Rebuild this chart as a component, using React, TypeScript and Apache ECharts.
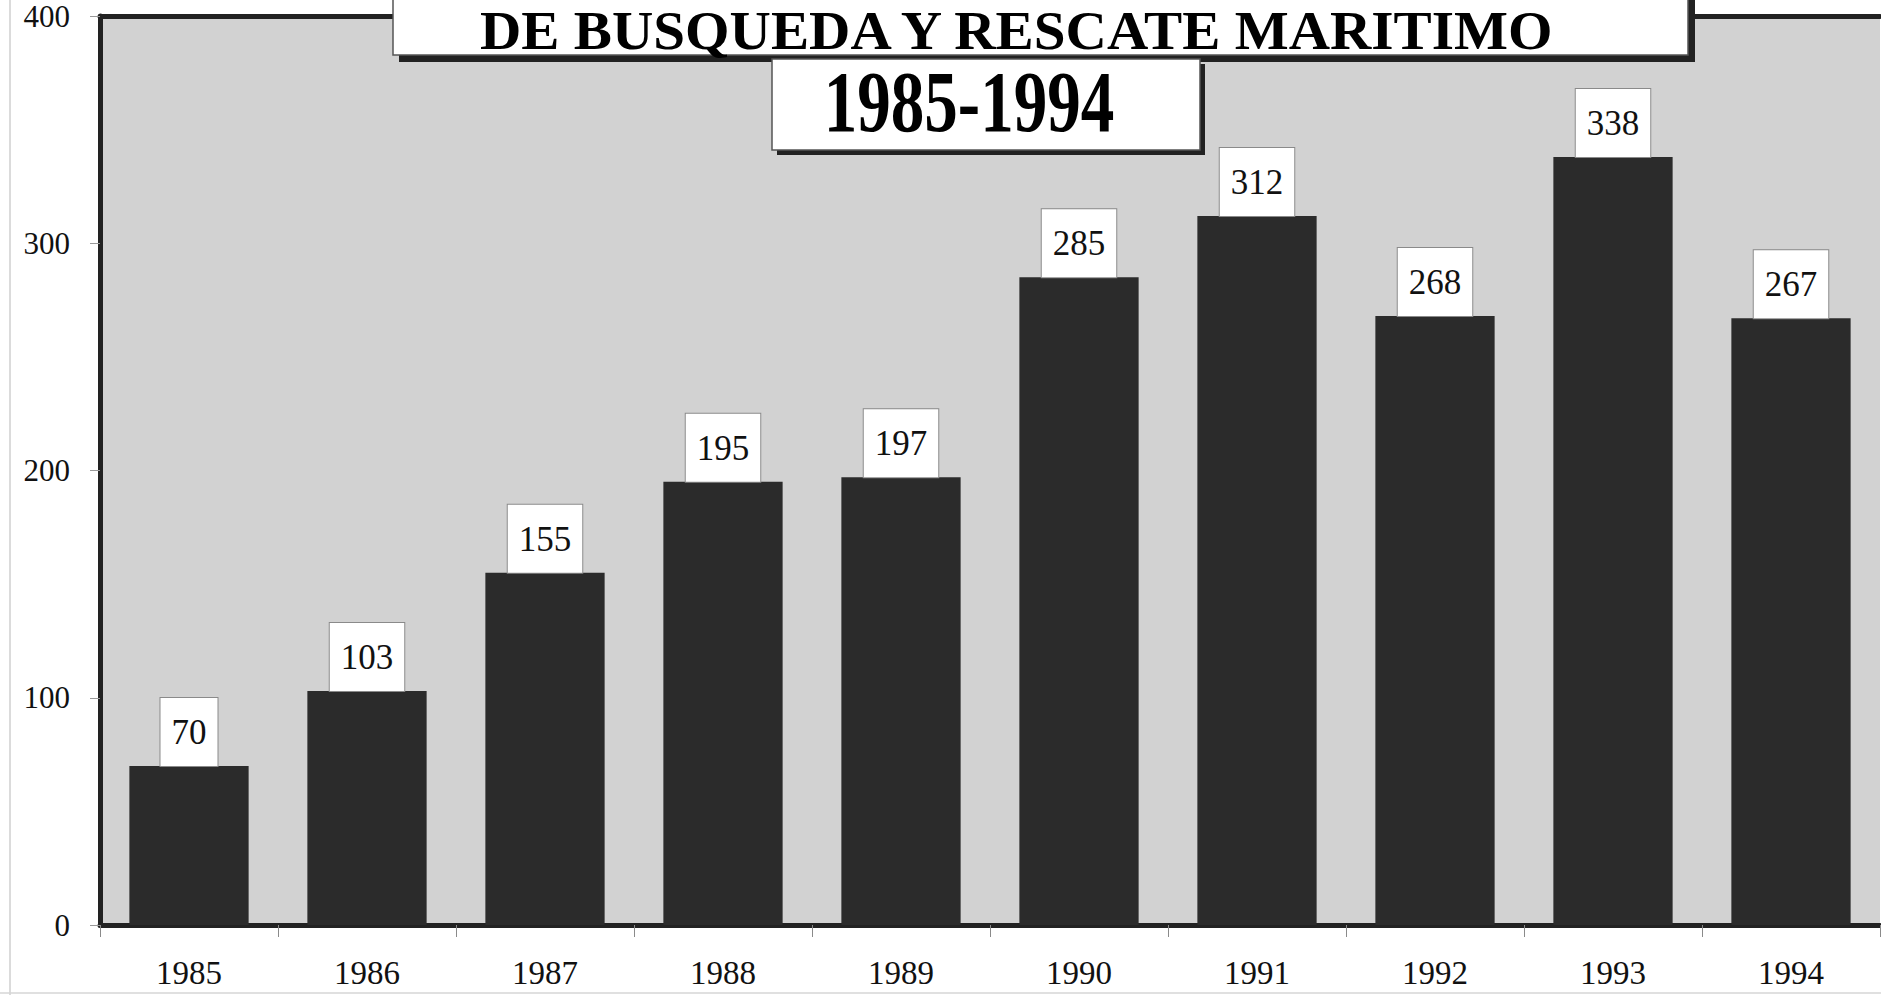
import React, { useEffect, useRef } from "react";
import * as echarts from "echarts";

const years: string[] = ["1985", "1986", "1987", "1988", "1989", "1990", "1991", "1992", "1993", "1994"];
const values: number[] = [70, 103, 155, 195, 197, 285, 312, 268, 338, 267];
const yMin = 0;
const yMax = 400;
const yInterval = 100;
const titleLine = "DE BUSQUEDA Y RESCATE MARITIMO";
const titlePeriod = "1985-1994";

const SERIF = "'Liberation Serif', 'Times New Roman', serif";

export default function App() {
  const ref = useRef<HTMLDivElement>(null);

  useEffect(() => {
    if (!ref.current) return;
    const chart = echarts.init(ref.current, undefined, { renderer: "svg" });
    const option: any = {
      animation: false,
      backgroundColor: "#ffffff",
      grid: {
        left: 100,
        right: 1,
        top: 16,
        bottom: 70,
        show: true,
        borderWidth: 0,
        backgroundColor: "#d2d2d2",
      },
      xAxis: [
        {
          type: "category",
          data: years,
          position: "bottom",
          axisLine: { show: true, lineStyle: { color: "#222222", width: 5 } },
          axisTick: { show: true, length: 12, lineStyle: { color: "#8a8a8a", width: 1 } },
          axisLabel: { fontSize: 33, fontFamily: SERIF, color: "#111111", margin: 31 },
          splitLine: { show: false },
        },
        {
          type: "category",
          data: years,
          position: "top",
          axisLine: { show: true, lineStyle: { color: "#222222", width: 5 } },
          axisTick: { show: false },
          axisLabel: { show: false },
          splitLine: { show: false },
        },
      ],
      yAxis: {
        type: "value",
        min: yMin,
        max: yMax,
        interval: yInterval,
        axisLine: { show: true, lineStyle: { color: "#222222", width: 5 } },
        axisTick: { show: true, length: 10, lineStyle: { color: "#999999", width: 1 } },
        axisLabel: { fontSize: 31, fontFamily: SERIF, color: "#111111", margin: 30 },
        splitLine: { show: false },
      },
      series: [
        {
          type: "bar",
          data: values,
          barWidth: "67%",
          itemStyle: { color: "#2b2b2b" },
          label: {
            show: true,
            position: "top",
            distance: 0,
            fontSize: 35,
            lineHeight: 35,
            fontFamily: SERIF,
            color: "#111111",
            backgroundColor: "#ffffff",
            borderColor: "#8a8a8a",
            borderWidth: 1,
            padding: [17, 11, 16, 11],
          },
        },
      ],
      graphic: [
        // page edge lines (scan artifacts)
        { type: "line", z: 100, shape: { x1: 10, y1: 0, x2: 10, y2: 995 }, style: { stroke: "#cfcfcf", lineWidth: 1.5 } },
        { type: "line", z: 100, shape: { x1: 0, y1: 993, x2: 1881, y2: 993 }, style: { stroke: "#d6d6d6", lineWidth: 1.5 } },
        // title box 1 shadow + box
        { type: "rect", z: 100, shape: { x: 399, y: -20, width: 1296, height: 82 }, style: { fill: "#222222" } },
        { type: "rect", z: 101, shape: { x: 393, y: -20, width: 1295, height: 75 }, style: { fill: "#ffffff", stroke: "#555555", lineWidth: 1.5 } },
        {
          type: "group",
          z: 102,
          x: 480,
          y: 31,
          scaleX: 1.06,
          children: [
            {
              type: "text",
              z: 102,
              x: 0,
              y: 0,
              style: {
                text: titleLine,
                font: "bold 54px " + SERIF,
                fill: "#000000",
                align: "left",
                verticalAlign: "middle",
              },
            },
          ],
        },
        // title box 2 shadow + box
        { type: "rect", z: 100, shape: { x: 777, y: 64, width: 428, height: 91 }, style: { fill: "#222222" } },
        { type: "rect", z: 101, shape: { x: 772, y: 59, width: 428, height: 91 }, style: { fill: "#ffffff", stroke: "#555555", lineWidth: 1.5 } },
        {
          type: "group",
          z: 102,
          x: 969,
          y: 102,
          scaleX: 0.78,
          children: [
            {
              type: "text",
              z: 102,
              x: 0,
              y: 0,
              style: {
                text: titlePeriod,
                font: "bold 86px " + SERIF,
                fill: "#000000",
                align: "center",
                verticalAlign: "middle",
              },
            },
          ],
        },
      ],
    };
    chart.setOption(option);
    return () => {
      chart.dispose();
    };
  }, []);

  return (
    <div
      ref={ref}
      style={{ position: "fixed", left: 0, top: 0, width: 1881, height: 995, background: "#ffffff" }}
    />
  );
}
